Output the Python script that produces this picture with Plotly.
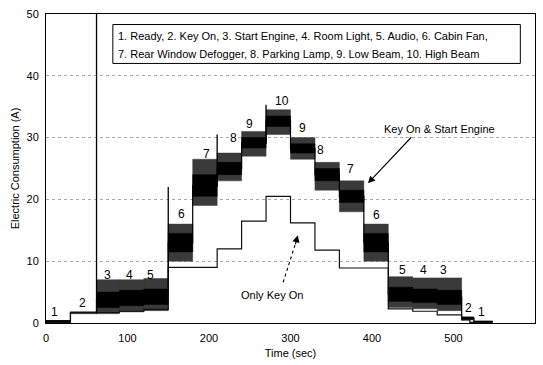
import plotly.graph_objects as go

seg_start = [0, 30, 62, 90, 120, 150, 180, 210, 240, 270, 300, 330, 360, 390, 420, 450, 480, 510, 525]
seg_end   = [30, 62, 90, 120, 150, 180, 210, 240, 270, 300, 330, 360, 390, 420, 450, 480, 510, 525, 548]
outer_lo  = [0.2, 1.5, 1.5, 1.8, 2.0, 10.0, 19.0, 23.0, 27.0, 30.5, 26.5, 21.5, 18.0, 10.0, 2.5, 2.3, 2.0, 0.5, 0.1]
core_lo   = [0.2, 1.6, 2.5, 2.8, 3.0, 11.5, 20.5, 24.0, 28.3, 31.8, 27.5, 23.0, 19.5, 11.5, 3.5, 3.3, 3.0, 0.6, 0.2]
core_hi   = [0.4, 1.8, 5.0, 5.3, 5.5, 14.5, 24.0, 26.0, 30.0, 33.5, 29.0, 25.0, 21.5, 14.5, 5.8, 5.5, 5.3, 0.9, 0.3]
outer_hi  = [0.4, 1.8, 7.0, 7.0, 7.2, 16.0, 26.5, 27.5, 31.0, 34.5, 30.0, 26.0, 23.0, 16.0, 7.5, 7.3, 7.3, 1.0, 0.3]

# transient spikes at switching moments
spike_t  = [62, 150, 210, 270]
spike_lo = [1.5, 5.0, 22.0, 29.0]
spike_hi = [50.0, 22.0, 30.5, 35.3]

# ---- "Only Key On" step curve ----
ko_t = [0, 30, 62, 90, 120, 150, 210, 240, 270, 300, 330, 360, 420, 450, 480, 510, 520, 548]
ko_v = [0.1, 1.7, 1.7, 1.9, 2.2, 9.0, 12.0, 16.5, 20.5, 16.2, 11.8, 8.9, 2.3, 1.9, 1.3, 0.5, 0.1, 0.1]

# ---- step number labels ----
lab_text = ["1", "2", "3", "4", "5", "6", "7", "8", "9", "10", "9", "8", "7", "6", "5", "4", "3", "2", "1"]
lab_x = [11, 45, 76, 102, 128, 166, 197, 230, 250, 290, 315, 337, 373, 406, 437, 463, 488, 519, 534]
lab_y = [1.8, 3.2, 7.8, 7.8, 7.8, 17.6, 27.4, 29.9, 32.2, 36.0, 31.5, 28.0, 25.0, 17.4, 8.6, 8.5, 8.5, 2.4, 1.8]

legend_lines = ["1. Ready, 2. Key On, 3. Start Engine, 4. Room Light, 5. Audio, 6. Cabin Fan,",
                "7. Rear Window Defogger, 8. Parking Lamp, 9. Low Beam, 10. High Beam"]

x_ticks = [0, 100, 200, 300, 400, 500, 600]
y_ticks = [0, 10, 20, 30, 40, 50]

FONT = "Liberation Sans, Arial, sans-serif"


def band(lo, hi):
    xs, ys = [], []
    for a, b, l, h in zip(seg_start, seg_end, lo, hi):
        xs += [a, b, b, a, a, None]
        ys += [l, l, h, h, l, None]
    return xs, ys


fig = go.Figure()

ox, oy = band(outer_lo, outer_hi)
fig.add_trace(go.Scatter(x=ox, y=oy, mode="lines", fill="toself",
                         fillcolor="#3a3a3a", line=dict(width=0.5, color="#3a3a3a"),
                         hoverinfo="skip"))
cx, cy = band(core_lo, core_hi)
fig.add_trace(go.Scatter(x=cx, y=cy, mode="lines", fill="toself",
                         fillcolor="black", line=dict(width=0.5, color="black"),
                         hoverinfo="skip"))

mid = [(a + b) / 2 for a, b in zip(core_lo, core_hi)]
fig.add_trace(go.Scatter(x=seg_start + [seg_end[-1]], y=mid + [mid[-1]], mode="lines",
                         line=dict(color="black", width=1.2, shape="hv"), hoverinfo="skip"))

sx, sy = [], []
for t, a, b in zip(spike_t, spike_lo, spike_hi):
    sx += [t, t, None]
    sy += [a, b, None]
fig.add_trace(go.Scatter(x=sx, y=sy, mode="lines", line=dict(color="black", width=1.3), hoverinfo="skip"))

fig.add_trace(go.Scatter(x=ko_t, y=ko_v, mode="lines",
                         line=dict(color="#111111", width=1.2, shape="hv"), hoverinfo="skip"))

# step labels
for t, x, y in zip(lab_text, lab_x, lab_y):
    fig.add_annotation(x=x, y=y, text=t, showarrow=False,
                       font=dict(family=FONT, size=12, color="black"))

# description box
fig.add_shape(type="rect", xref="x", yref="y", x0=82, x1=582, y0=42.0, y1=48.3,
              line=dict(color="black", width=1), fillcolor="white", layer="above")
fig.add_annotation(x=86, y=46.5, text=legend_lines[0], showarrow=False, xanchor="left",
                   font=dict(family=FONT, size=11, color="black"))
fig.add_annotation(x=86, y=43.6, text=legend_lines[1], showarrow=False, xanchor="left",
                   font=dict(family=FONT, size=11, color="black"))

# "Key On & Start Engine" arrow
fig.add_annotation(x=483, y=31.4, text="Key On & Start Engine", showarrow=False,
                   font=dict(family=FONT, size=11, color="black"))
fig.add_annotation(x=395, y=22.6, ax=450, ay=30.3, axref="x", ayref="y", xref="x", yref="y",
                   text="", showarrow=True, arrowhead=2, arrowsize=1.3, arrowwidth=1.1, arrowcolor="black")

# "Only Key On" dotted arrow
fig.add_annotation(x=277, y=4.5, text="Only Key On", showarrow=False,
                   font=dict(family=FONT, size=11, color="black"))
fig.add_shape(type="line", xref="x", yref="y", x0=291, y0=6.6, x1=306, y1=12.8,
              line=dict(color="black", width=1.1, dash="dot"))
fig.add_annotation(x=309, y=14.2, ax=305.5, ay=12.5, axref="x", ayref="y", xref="x", yref="y",
                   text="", showarrow=True, arrowhead=2, arrowsize=1.3, arrowwidth=1.1, arrowcolor="black")

fig.update_layout(
    width=543, height=365,
    margin=dict(l=46, r=8, t=14, b=42),
    paper_bgcolor="white", plot_bgcolor="white",
    showlegend=False,
    font=dict(family=FONT, size=11, color="black"),
)
fig.update_xaxes(range=[0, 600], tickvals=x_ticks, ticktext=[str(v) for v in x_ticks],
                 showgrid=False, zeroline=False, showline=True, linecolor="black", linewidth=1,
                 mirror=True, ticks="", ticklabelstandoff=5, tickfont=dict(family=FONT, size=11),
                 title=dict(text="Time (sec)", font=dict(family=FONT, size=11), standoff=6))
fig.update_yaxes(range=[0, 50], tickvals=y_ticks, ticktext=[str(v) for v in y_ticks],
                 showgrid=True, gridcolor="#aaaaaa", griddash="dot", gridwidth=1,
                 zeroline=False, showline=True, linecolor="black", linewidth=1,
                 mirror=True, ticks="", ticklabelstandoff=4, tickfont=dict(family=FONT, size=11),
                 title=dict(text="Electric Consumption (A)", font=dict(family=FONT, size=11), standoff=4))

fig.write_html("out.html")
